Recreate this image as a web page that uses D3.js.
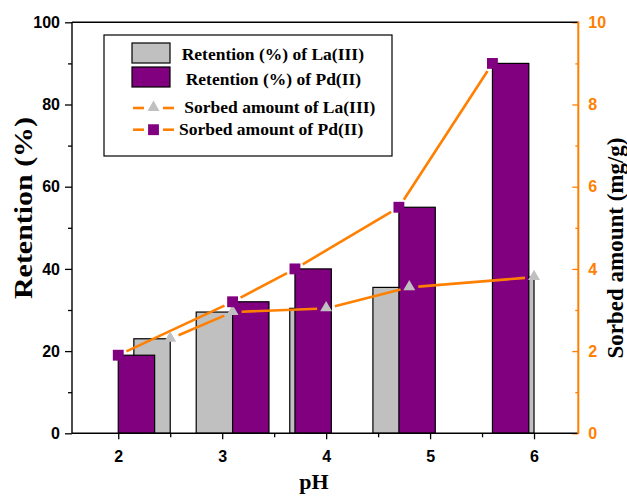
<!DOCTYPE html>
<html>
<head>
<meta charset="utf-8">
<script src="https://cdn.jsdelivr.net/npm/d3@7/dist/d3.min.js"></script>
<style>
  html, body { margin: 0; padding: 0; background: #fff; }
  svg { display: block; }
</style>
</head>
<body>
<svg id="chart" width="627" height="497"></svg>
<script>
// pH ticks and measured values
const phTicks = [2, 3, 4, 5, 6];
const phMinor = [2.5, 3.5, 4.5, 5.5];
const laPH = [2.5, 3.1, 4.0, 4.8, 6.0];
const pdPH = [2.0, 3.1, 3.7, 4.7, 5.6];
const laRetention = [23, 29.5, 30.4, 35.5, 38];
const pdRetention = [19, 32, 40, 55, 90];
const laSorbed = [2.3, 2.95, 3.04, 3.55, 3.8];
const pdSorbed = [1.9, 3.2, 4.0, 5.5, 9.0];
const retentionTicks = [0, 20, 40, 60, 80, 100];
const retentionMinor = [10, 30, 50, 70, 90];
const sorbedTicks = [0, 2, 4, 6, 8, 10];
const sorbedMinor = [1, 3, 5, 7, 9];
const legendLabels = [
  "Retention (%) of La(III)",
  "Retention (%) of Pd(II)",
  "Sorbed amount of La(III)",
  "Sorbed amount of Pd(II)"
];

const ORANGE = "#FF8000";
const PURPLE = "#800080";
const GRAY = "#C0C0C0";
const SERIF = "'Liberation Serif', 'Times New Roman', serif";
const SANS = "'Liberation Sans', Arial, sans-serif";
const BAR_W = 0.35; // bar width in pH units

const svg = d3.select("#chart");
const L = 72, R = 578.3, T = 22.3, B = 433.3;

const x = d3.scaleLinear().domain([1.555, 6.426]).range([L, R]);
const yL = d3.scaleLinear().domain([0, 100]).range([B, T]);
const yR = d3.scaleLinear().domain([0, 10]).range([B, T]);

// bars: La bars end at their pH, Pd bars start at theirs
const gBars = svg.append("g");
gBars.selectAll("rect.la").data(laPH).join("rect")
  .attr("class", "la")
  .attr("x", d => x(d - BAR_W))
  .attr("width", d => x(d) - x(d - BAR_W))
  .attr("y", (d, i) => yL(laRetention[i]))
  .attr("height", (d, i) => yL(0) - yL(laRetention[i]))
  .attr("fill", GRAY).attr("stroke", "#000").attr("stroke-width", 1.2);
gBars.selectAll("rect.pd").data(pdPH).join("rect")
  .attr("class", "pd")
  .attr("x", d => x(d))
  .attr("width", d => x(d + BAR_W) - x(d))
  .attr("y", (d, i) => yL(pdRetention[i]))
  .attr("height", (d, i) => yL(0) - yL(pdRetention[i]))
  .attr("fill", PURPLE).attr("stroke", "#000").attr("stroke-width", 1.2);

// connecting lines with a gap around each marker
function gappedSegments(xs, ys, gap) {
  const segs = [];
  for (let i = 0; i < xs.length - 1; i++) {
    const x1 = x(xs[i]), y1 = yR(ys[i]), x2 = x(xs[i + 1]), y2 = yR(ys[i + 1]);
    const len = Math.hypot(x2 - x1, y2 - y1);
    const ux = (x2 - x1) / len, uy = (y2 - y1) / len;
    segs.push([x1 + ux * gap, y1 + uy * gap, x2 - ux * gap, y2 - uy * gap]);
  }
  return segs;
}
const gLines = svg.append("g");
[[laPH, laSorbed], [pdPH, pdSorbed]].forEach(([xs, ys]) => {
  gLines.append("g").selectAll("line").data(gappedSegments(xs, ys, 9)).join("line")
    .attr("x1", d => d[0]).attr("y1", d => d[1])
    .attr("x2", d => d[2]).attr("y2", d => d[3])
    .attr("stroke", ORANGE).attr("stroke-width", 2.6);
});

// markers
const tri = d3.symbol().type(d3.symbolTriangle).size(62);
const sq = d3.symbol().type(d3.symbolSquare).size(118);
const gMarks = svg.append("g");
gMarks.selectAll("path.la").data(laPH).join("path")
  .attr("class", "la")
  .attr("d", tri)
  .attr("transform", (d, i) => `translate(${x(d)},${yR(laSorbed[i]) - 0.5})`)
  .attr("fill", GRAY);
gMarks.selectAll("path.pd").data(pdPH).join("path")
  .attr("class", "pd")
  .attr("d", sq)
  .attr("transform", (d, i) => `translate(${x(d)},${yR(pdSorbed[i])})`)
  .attr("fill", PURPLE);

// axes
function styleAxis(g, color) {
  g.select(".domain").remove();
  g.selectAll("line").attr("stroke", color).attr("stroke-width", 1.3);
  g.selectAll("text").attr("fill", color)
    .style("font-family", SANS).style("font-weight", "bold").style("font-size", "16px");
}
svg.append("g").attr("transform", `translate(${L},0)`)
  .call(d3.axisLeft(yL).tickValues(retentionTicks).tickSize(7).tickPadding(5))
  .call(g => styleAxis(g, "#000"));
svg.append("g").attr("transform", `translate(${L},0)`)
  .call(d3.axisLeft(yL).tickValues(retentionMinor).tickSize(4).tickFormat(""))
  .call(g => styleAxis(g, "#000"));
svg.append("g").attr("transform", `translate(0,${B})`)
  .call(d3.axisBottom(x).tickValues(phTicks).tickSize(6).tickPadding(11.6).tickFormat(d3.format("d")))
  .call(g => styleAxis(g, "#000"));
svg.append("g").attr("transform", `translate(0,${B})`)
  .call(d3.axisBottom(x).tickValues(phMinor).tickSize(4).tickFormat(""))
  .call(g => styleAxis(g, "#000"));
svg.append("g").attr("transform", `translate(${R},0)`)
  .call(d3.axisRight(yR).tickValues(sorbedTicks).tickSize(-6).tickPadding(10))
  .call(g => styleAxis(g, ORANGE));
svg.append("g").attr("transform", `translate(${R},0)`)
  .call(d3.axisRight(yR).tickValues(sorbedMinor).tickSize(-3).tickFormat(""))
  .call(g => styleAxis(g, ORANGE));

// frame
const frame = svg.append("g").attr("stroke-width", 1.4).attr("fill", "none");
frame.append("line").attr("x1", L).attr("x2", R).attr("y1", T).attr("y2", T).attr("stroke", "#000");
frame.append("line").attr("x1", L).attr("x2", R).attr("y1", B).attr("y2", B).attr("stroke", "#000");
frame.append("line").attr("x1", L).attr("x2", L).attr("y1", T).attr("y2", B).attr("stroke", "#000");
frame.append("line").attr("x1", R).attr("x2", R).attr("y1", T - 0.7).attr("y2", B + 0.7).attr("stroke", ORANGE).attr("stroke-width", 2);

// axis titles
svg.append("text").text("pH")
  .attr("x", 314).attr("y", 489).attr("text-anchor", "middle")
  .style("font-family", SERIF).style("font-weight", "bold").style("font-size", "22px");
svg.append("text").text("Retention (%)")
  .attr("transform", "translate(23,208) rotate(-90)")
  .attr("text-anchor", "middle").attr("dominant-baseline", "central")
  .attr("textLength", 182).attr("lengthAdjust", "spacingAndGlyphs")
  .style("font-family", SERIF).style("font-weight", "bold").style("font-size", "26px");
svg.append("text").text("Sorbed amount (mg/g)")
  .attr("transform", "translate(615,248) rotate(-90)")
  .attr("text-anchor", "middle").attr("dominant-baseline", "central")
  .style("font-family", SERIF).style("font-weight", "bold").style("font-size", "23px");

// legend
const lg = svg.append("g");
lg.append("rect").attr("x", 104).attr("y", 35).attr("width", 288).attr("height", 121)
  .attr("fill", "#fff").attr("stroke", "#000").attr("stroke-width", 1.2);
lg.append("rect").attr("x", 132).attr("y", 43).attr("width", 38).attr("height", 20)
  .attr("fill", GRAY).attr("stroke", "#000").attr("stroke-width", 1.2);
lg.append("rect").attr("x", 132).attr("y", 67).attr("width", 38).attr("height", 20)
  .attr("fill", PURPLE).attr("stroke", "#000").attr("stroke-width", 1.2);
[108, 129.7].forEach((yy, k) => {
  lg.append("line").attr("x1", 133).attr("x2", 144).attr("y1", yy).attr("y2", yy)
    .attr("stroke", ORANGE).attr("stroke-width", 2.6);
  lg.append("line").attr("x1", 163).attr("x2", 174).attr("y1", yy).attr("y2", yy)
    .attr("stroke", ORANGE).attr("stroke-width", 2.6);
  lg.append("path").attr("d", k === 0 ? tri : sq)
    .attr("transform", `translate(153.5,${yy - (k === 0 ? 0.5 : 0)})`)
    .attr("fill", k === 0 ? GRAY : PURPLE);
});
const legendPos = [[181.7, 60.3], [185.7, 84.7], [184.3, 113], [179, 135.3]];
lg.selectAll("text").data(legendLabels).join("text")
  .text(d => d)
  .attr("x", (d, i) => legendPos[i][0]).attr("y", (d, i) => legendPos[i][1])
  .style("font-family", SERIF).style("font-weight", "bold").style("font-size", "17.5px");
</script>
</body>
</html>
